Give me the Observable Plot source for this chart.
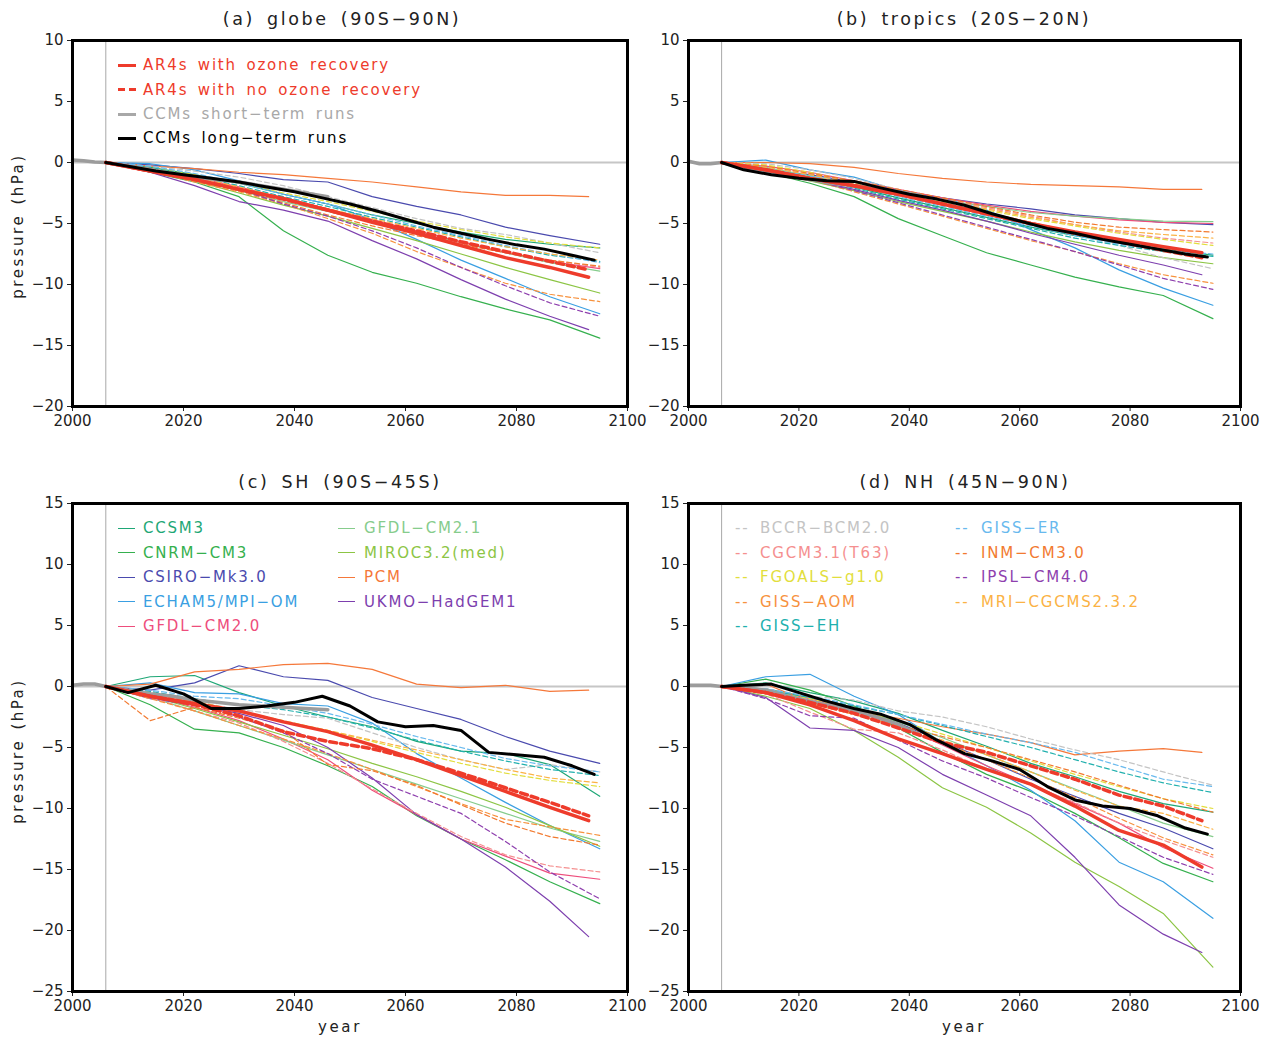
<!DOCTYPE html>
<html><head><meta charset="utf-8">
<script src="https://cdn.jsdelivr.net/npm/d3@7"></script>
<script src="https://cdn.jsdelivr.net/npm/@observablehq/plot@0.6"></script>
<style>
body{margin:0;background:#fff;}
#wrap{position:relative;width:1272px;height:1038px;overflow:hidden;font-family:"DejaVu Sans",sans-serif;background:#fff;}
.panel{position:absolute;}
.panel svg{overflow:visible;}
.txt{position:absolute;white-space:nowrap;}
.title{font-size:17.5px;letter-spacing:2.6px;word-spacing:4px;text-align:center;width:400px;height:22px;line-height:22px;color:#222;}
.ylab{font-size:15px;letter-spacing:2.5px;word-spacing:2px;width:200px;height:20px;line-height:20px;text-align:center;transform:rotate(-90deg);color:#222;}
.row{position:absolute;height:24px;display:flex;align-items:center;font-size:15px;letter-spacing:1.8px;word-spacing:3px;white-space:nowrap;}
</style></head>
<body><div id="wrap"></div>
<script>
// ---------------- data ----------------
const years = [2006, 2014, 2022, 2030, 2038, 2046, 2054, 2062, 2070, 2078, 2086, 2095];
const meanYears = [2006, 2014, 2022, 2030, 2038, 2046, 2054, 2062, 2070, 2078, 2086, 2093];
const longYears = [2006, 2010, 2015, 2020, 2025, 2030, 2035, 2040, 2045, 2050, 2055, 2060, 2065, 2070, 2075, 2080, 2085, 2090, 2094];
const shortYears = [2000, 2002, 2004, 2006, 2010, 2014, 2018, 2022, 2026, 2030, 2034, 2038, 2042, 2046];

const models = ["CCSM3", "CNRM−CM3", "CSIRO−Mk3.0", "ECHAM5/MPI−OM", "GFDL−CM2.0", "GFDL−CM2.1", "MIROC3.2(med)", "PCM", "UKMO−HadGEM1",
  "BCCR−BCM2.0", "CGCM3.1(T63)", "FGOALS−g1.0", "GISS−AOM", "GISS−EH", "GISS−ER", "INM−CM3.0", "IPSL−CM4.0", "MRI−CGCMS2.3.2"];
const modelColors = ["#1ea776", "#35b04e", "#4a4aae", "#3a9fe2", "#ee4d7c", "#86cc8c", "#8cc544", "#f5783a", "#7d3fae",
  "#c4c4c4", "#f58f8f", "#e2de3c", "#f7923e", "#21b0ae", "#68b9ee", "#f27a30", "#8e3fae", "#fbb244"];
const modelDashed = [false, false, false, false, false, false, false, false, false, true, true, true, true, true, true, true, true, true];
const modelLast = [2095, 2095, 2095, 2095, 2095, 2095, 2095, 2093, 2093, 2095, 2095, 2095, 2095, 2095, 2095, 2095, 2095, 2095];

// (a) globe 90S-90N
const globeModels = [
  [0, -0.4, -1.0, -1.7, -2.6, -3.4, -4.3, -5.0, -5.7, -6.3, -6.7, -7.0],
  [0, -0.8, -1.6, -2.8, -5.6, -7.6, -9.0, -9.9, -11.0, -12.0, -12.9, -14.4],
  [0, -0.2, -0.5, -0.9, -1.4, -1.6, -2.8, -3.6, -4.3, -5.3, -6.0, -6.7],
  [0, -0.1, -0.6, -1.5, -2.6, -3.4, -4.7, -6.3, -8.0, -9.5, -11.0, -12.4],
  [0, -0.5, -1.2, -2.0, -2.9, -3.8, -4.7, -5.6, -6.5, -7.4, -8.1, -8.7],
  [0, -0.6, -1.4, -2.3, -3.2, -4.0, -4.9, -5.7, -6.6, -7.4, -8.2, -8.9],
  [0, -0.6, -1.5, -2.5, -3.5, -4.4, -5.4, -6.4, -7.5, -8.6, -9.6, -10.7],
  [0, -0.3, -0.5, -0.8, -1.0, -1.3, -1.6, -2.0, -2.4, -2.7, -2.7, -2.8],
  [0, -0.8, -1.9, -3.2, -3.9, -4.8, -6.4, -7.9, -9.6, -11.2, -12.6, -13.7],
  [0, -0.3, -0.7, -1.2, -1.9, -2.8, -3.7, -4.6, -5.4, -5.9, -6.6, -7.4],
  [0, -0.5, -1.2, -2.0, -2.9, -3.8, -4.8, -5.7, -6.6, -7.4, -8.0, -8.6],
  [0, -0.4, -1.0, -1.7, -2.5, -3.2, -4.0, -4.8, -5.5, -6.1, -6.6, -7.0],
  [0, -0.7, -1.6, -2.4, -3.4, -4.6, -5.8, -7.3, -8.6, -9.9, -10.8, -11.4],
  [0, -0.4, -1.1, -1.9, -2.8, -3.6, -4.5, -5.3, -6.1, -6.9, -7.6, -8.1],
  [0, -0.3, -0.9, -1.7, -2.6, -3.4, -4.3, -5.2, -6.0, -6.8, -7.5, -8.2],
  [0, -0.6, -1.4, -2.3, -3.3, -4.3, -5.2, -6.0, -6.7, -7.4, -8.0, -8.5],
  [0, -0.5, -1.3, -2.2, -3.4, -4.4, -5.6, -7.0, -8.6, -10.1, -11.5, -12.6],
  [0, -0.5, -1.2, -2.0, -2.9, -3.8, -4.6, -5.4, -6.2, -6.9, -7.5, -8.0]
];
const globeRecovery = [0, -0.7, -1.4, -2.2, -2.95, -3.9, -4.9, -5.8, -6.8, -7.8, -8.6, -9.4];
const globeNoRecovery = [0, -0.7, -1.4, -2.2, -3.0, -3.9, -4.8, -5.6, -6.5, -7.3, -8.1, -8.8];
const globeShort = [0.2, 0.15, 0.05, 0, -0.3, -0.6, -0.9, -1.2, -1.4, -1.6, -1.9, -2.2, -2.5, -2.8];
const globeLong = [0, -0.3, -0.7, -1.0, -1.3, -1.6, -2.0, -2.4, -2.9, -3.4, -4.0, -4.65, -5.3, -5.8, -6.3, -6.75, -7.1, -7.6, -8.0];

// (b) tropics 20S-20N
const tropicsModels = [
  [0, -0.5, -1.2, -2.0, -2.9, -3.7, -4.5, -5.3, -6.0, -6.6, -7.1, -7.6],
  [0, -0.8, -1.7, -2.8, -4.6, -6.0, -7.4, -8.4, -9.4, -10.2, -10.9, -12.8],
  [0, -0.6, -1.0, -1.6, -2.3, -2.9, -3.4, -3.8, -4.3, -4.6, -4.9, -5.1],
  [0, 0.2, -0.6, -1.2, -2.3, -2.9, -3.9, -5.5, -7.0, -8.8, -10.3, -11.7],
  [0, -0.3, -0.8, -1.5, -2.2, -2.9, -3.5, -4.0, -4.4, -4.7, -4.9, -5.0],
  [0, -0.4, -1.1, -1.8, -2.5, -3.1, -3.6, -4.1, -4.4, -4.6, -4.8, -4.85],
  [0, -0.7, -1.5, -2.3, -3.2, -4.0, -4.8, -5.7, -6.5, -7.2, -7.8, -8.3],
  [0, 0, -0.1, -0.4, -0.9, -1.3, -1.6, -1.8, -1.9, -2.0, -2.2, -2.2],
  [0, -0.7, -1.4, -2.2, -3.1, -3.9, -4.8, -5.8, -6.7, -7.6, -8.4, -9.2],
  [0, -0.1, -0.6, -1.3, -2.2, -3.2, -4.1, -5.0, -5.9, -6.8, -7.8, -8.7],
  [0, -0.3, -0.9, -1.6, -2.3, -3.0, -3.7, -4.4, -5.1, -5.7, -6.2, -6.6],
  [0, -0.2, -0.8, -1.6, -2.4, -3.2, -3.9, -4.6, -5.2, -5.8, -6.3, -6.8],
  [0, -0.6, -1.4, -2.4, -3.4, -4.4, -5.4, -6.4, -7.3, -8.3, -9.2, -9.9],
  [0, -0.5, -1.3, -2.1, -3.0, -3.8, -4.6, -5.4, -6.2, -6.8, -7.3, -7.7],
  [0, -0.4, -1.1, -1.9, -2.8, -3.6, -4.4, -5.2, -6.0, -6.7, -7.2, -7.5],
  [0, -0.3, -0.9, -1.5, -2.2, -2.9, -3.6, -4.3, -4.9, -5.3, -5.5, -5.7],
  [0, -0.6, -1.4, -2.3, -3.3, -4.3, -5.3, -6.3, -7.3, -8.4, -9.5, -10.4],
  [0, -0.4, -1.0, -1.7, -2.4, -3.1, -3.8, -4.5, -5.1, -5.6, -5.9, -6.2]
];
const tropicsRecovery = [0, -0.6, -1.3, -1.9, -2.6, -3.4, -4.2, -5.0, -5.7, -6.3, -6.9, -7.4];
const tropicsNoRecovery = [0, -0.6, -1.3, -1.9, -2.6, -3.4, -4.2, -5.0, -5.8, -6.5, -7.2, -7.8];
const tropicsShort = [0.1, -0.1, -0.1, 0, -0.4, -0.8, -1.1, -1.4, -1.7, -1.9, -2.2, -2.4, -2.7];
const tropicsLong = [0, -0.6, -1.0, -1.3, -1.5, -1.55, -2.1, -2.6, -3.0, -3.5, -4.2, -4.8, -5.4, -5.8, -6.3, -6.7, -7.1, -7.5, -7.75];

// (c) SH 90S-45S
const shModels = [
  [0, 0.8, 0.9, -0.5, -1.6, -2.5, -3.3, -4.5, -5.3, -5.5, -6.4, -9.0],
  [0, -1.5, -3.5, -3.8, -5.0, -6.5, -8.2, -10.6, -12.5, -14.2, -16.0, -17.8],
  [0, -0.3, 0.3, 1.7, 0.8, 0.5, -0.9, -1.8, -2.7, -4.1, -5.3, -6.3],
  [0, 0.3, -0.5, -0.6, -1.4, -1.6, -3.0, -5.5, -7.5, -9.5, -11.4, -13.3],
  [0, -0.8, -1.7, -2.8, -4.3, -6.0, -8.5, -10.5, -12.5, -13.9, -15.3, -15.8],
  [0, -0.9, -2.0, -3.2, -4.4, -5.6, -6.8, -8.0, -9.2, -10.4, -11.6, -12.7],
  [0, -0.8, -1.8, -2.9, -4.0, -5.1, -6.3, -7.4, -8.6, -9.9, -11.4, -13.1],
  [0, 0.2, 1.2, 1.4, 1.8, 1.9, 1.4, 0.2, -0.1, 0.1, -0.4, -0.3],
  [0, -1.0, -1.5, -2.2, -3.2, -5.0, -7.5, -10.5, -12.5, -14.8, -17.6, -20.5],
  [0, -0.5, -1.2, -1.9, -2.3, -2.6, -3.8, -5.0, -6.0, -6.8, -6.4, -7.0],
  [0, -0.9, -2.0, -3.0, -4.5, -6.3, -8.4, -10.4, -12.3, -13.8, -14.7, -15.2],
  [0, -0.5, -1.2, -2.0, -2.8, -3.6, -4.5, -5.4, -6.3, -7.1, -7.7, -8.2],
  [0, -1.0, -2.0, -3.2, -4.3, -5.5, -6.8, -8.2, -9.6, -10.9, -11.5, -12.2],
  [0, -0.4, -1.0, -1.5, -1.9, -2.5, -3.4, -4.4, -5.3, -6.1, -6.8, -7.3],
  [0, -0.3, -0.8, -1.0, -1.6, -2.2, -3.1, -4.1, -5.0, -5.9, -6.5, -7.0],
  [0, -2.8, -1.7, -2.6, -3.6, -6.4, -6.9, -8.1, -9.7, -11.2, -12.3, -13.0],
  [0, -0.6, -1.4, -2.5, -3.8, -5.5, -7.6, -9.0, -10.4, -12.7, -15.2, -17.4],
  [0, -0.6, -1.3, -2.1, -2.9, -3.6, -4.4, -5.2, -6.0, -6.8, -7.5, -7.9]
];
const shRecovery = [0, -0.8, -1.4, -2.0, -2.9, -3.7, -4.8, -6.0, -7.3, -8.6, -9.9, -11.0];
const shNoRecovery = [0, -0.8, -1.5, -2.4, -3.7, -4.5, -5.1, -6.0, -7.1, -8.3, -9.5, -10.6];
const shShort = [0.1, 0.2, 0.2, 0, -0.3, -0.6, -0.8, -1.1, -1.3, -1.5, -1.6, -1.7, -1.8, -1.9];
const shLong = [0, -0.5, 0.1, -0.6, -1.8, -1.8, -1.6, -1.3, -0.8, -1.6, -2.9, -3.3, -3.2, -3.6, -5.4, -5.6, -5.8, -6.5, -7.2];

// (d) NH 45N-90N
const nhModels = [
  [0, 0.3, -0.5, -1.2, -2.2, -3.6, -4.9, -6.3, -7.4, -8.6, -9.6, -10.3],
  [0, 0.6, -0.3, -1.6, -3.4, -5.4, -7.2, -8.6, -10.4, -12.4, -14.5, -16.0],
  [0, -0.2, -0.9, -1.9, -3.0, -4.5, -6.0, -7.6, -9.0, -10.4, -11.6, -13.3],
  [0, 0.8, 1.0, -0.8, -2.3, -4.6, -6.5, -8.5, -11.0, -14.4, -16.0, -19.0],
  [0, -0.3, -1.0, -2.0, -3.2, -4.8, -6.5, -8.0, -9.6, -11.2, -13.2, -14.9],
  [0, -0.2, -0.9, -1.8, -2.9, -4.2, -5.6, -7.0, -8.4, -9.8, -11.2, -12.3],
  [0, -0.8, -1.8, -3.6, -5.8, -8.3, -9.9, -12.0, -14.4, -16.4, -18.6, -23.0],
  [0, 0.2, -1.3, -2.0, -2.6, -3.3, -3.9, -4.6, -5.6, -5.3, -5.1, -5.4],
  [0, -0.9, -3.4, -3.6, -5.0, -7.2, -8.9, -10.6, -14.0, -17.9, -20.3, -21.8],
  [0, -0.2, -0.8, -1.1, -2.0, -2.5, -3.3, -4.3, -5.2, -6.0, -7.0, -8.1],
  [0, -0.6, -2.1, -3.5, -3.8, -5.2, -6.8, -8.1, -9.5, -11.2, -12.6, -14.0],
  [0, -0.3, -1.0, -1.8, -2.8, -3.9, -5.0, -6.1, -7.2, -8.2, -9.2, -10.0],
  [0, -0.4, -1.2, -2.2, -3.3, -4.6, -6.0, -7.5, -9.1, -10.8, -12.4, -13.8],
  [0, -0.3, -0.9, -1.6, -2.3, -3.2, -4.1, -5.0, -6.0, -7.0, -7.9, -8.7],
  [0, -0.2, -0.8, -1.5, -2.3, -3.1, -3.9, -4.6, -5.4, -6.5, -7.6, -8.2],
  [0, -0.6, -1.4, -2.3, -3.2, -4.1, -5.0, -6.0, -7.0, -8.1, -9.2, -10.3],
  [0, -1.0, -2.4, -2.6, -4.4, -6.1, -7.5, -9.1, -10.6, -12.3, -14.0, -15.4],
  [0, -0.5, -1.3, -2.3, -3.3, -4.4, -5.6, -7.0, -8.5, -9.8, -10.4, -11.7]
];
const nhRecovery = [0, -0.5, -1.5, -2.8, -4.3, -5.5, -6.8, -8.0, -9.8, -11.8, -13.0, -14.8];
const nhNoRecovery = [0, -0.5, -1.3, -2.2, -3.4, -4.6, -5.4, -6.5, -7.6, -8.9, -9.8, -11.0];
const nhShort = [0.1, 0.1, 0.1, 0, -0.1, -0.3, -0.8, -1.2, -1.6, -2.0, -2.5, -3.1, -4.0];
const nhLong = [0, 0.1, 0.2, -0.5, -1.2, -1.8, -2.3, -3.1, -4.4, -5.5, -6.1, -6.8, -8.2, -9.3, -9.8, -10.0, -10.6, -11.6, -12.1];

const titles = ["(a) globe (90S−90N)", "(b) tropics (20S−20N)", "(c) SH (90S−45S)", "(d) NH (45N−90N)"];
const meanLabels = ["AR4s with ozone recovery", "AR4s with no ozone recovery", "CCMs short−term runs", "CCMs long−term runs"];
const xTicks = [2000, 2020, 2040, 2060, 2080, 2100];

// ---------------- drawing ----------------
const RED = "#ee3b2b", GREY = "#9c9c9c";
const wrap = document.getElementById("wrap");

function series(ys, vals) {
  return vals.map((v, i) => ({year: ys[i], value: v}));
}

function panel(o) {
  const rows = [];
  models.forEach((m, i) => o.models[i].forEach((v, j) => rows.push({
    model: m, year: j === years.length - 1 ? modelLast[i] : years[j], value: v, dashed: modelDashed[i]
  })));
  const plot = Plot.plot({
    width: 636, height: o.height,
    marginTop: 40, marginBottom: o.mb, marginLeft: o.ml, marginRight: o.mr,
    style: {fontFamily: "DejaVu Sans, sans-serif", fontSize: "15px", background: "transparent", overflow: "visible", color: "#222"},
    x: {domain: [2000, 2100], ticks: xTicks, tickFormat: d => String(d), label: null, tickSize: 5, tickPadding: 4},
    y: {domain: o.yDomain, ticks: o.yTicks, label: null, tickSize: 5, tickPadding: 4},
    color: {domain: models, range: modelColors},
    marks: [
      Plot.ruleY([0], {stroke: "#c6c6c6", strokeWidth: 1.8}),
      Plot.ruleX([2006], {stroke: "#a8a8a8", strokeWidth: 1}),
      Plot.line(rows.filter(d => !d.dashed), {x: "year", y: "value", z: "model", stroke: "model", strokeWidth: 1.2}),
      Plot.line(rows.filter(d => d.dashed), {x: "year", y: "value", z: "model", stroke: "model", strokeWidth: 1.2, strokeDasharray: "5,3"}),
      Plot.line(series(shortYears, o.short), {x: "year", y: "value", stroke: GREY, strokeWidth: 3.5}),
      Plot.line(series(meanYears, o.noRec), {x: "year", y: "value", stroke: RED, strokeWidth: 3.5, strokeDasharray: "7,4"}),
      Plot.line(series(meanYears, o.rec), {x: "year", y: "value", stroke: RED, strokeWidth: 3.5}),
      Plot.line(series(longYears, o.long), {x: "year", y: "value", stroke: "#000", strokeWidth: 3}),
      Plot.frame({stroke: "#000", strokeWidth: 3})
    ]
  });
  const div = document.createElement("div");
  div.className = "panel";
  div.style.left = o.left + "px";
  div.style.top = o.top + "px";
  div.appendChild(plot);
  wrap.appendChild(div);
}

panel({left: 0, top: 0, height: 440, mb: 34, ml: 72, mr: 9, yDomain: [-20, 10], yTicks: [-20, -15, -10, -5, 0, 5, 10],
  models: globeModels, rec: globeRecovery, noRec: globeNoRecovery, short: globeShort, long: globeLong});
panel({left: 636, top: 0, height: 440, mb: 34, ml: 52, mr: 32, yDomain: [-20, 10], yTicks: [-20, -15, -10, -5, 0, 5, 10],
  models: tropicsModels, rec: tropicsRecovery, noRec: tropicsNoRecovery, short: tropicsShort, long: tropicsLong});
panel({left: 0, top: 463, height: 575, mb: 47, ml: 72, mr: 9, yDomain: [-25, 15], yTicks: [-25, -20, -15, -10, -5, 0, 5, 10, 15],
  models: shModels, rec: shRecovery, noRec: shNoRecovery, short: shShort, long: shLong});
panel({left: 636, top: 463, height: 575, mb: 47, ml: 52, mr: 32, yDomain: [-25, 15], yTicks: [-25, -20, -15, -10, -5, 0, 5, 10, 15],
  models: nhModels, rec: nhRecovery, noRec: nhNoRecovery, short: nhShort, long: nhLong});

function addText(cls, text, left, top, color) {
  const d = document.createElement("div");
  d.className = "txt " + cls;
  d.textContent = text;
  d.style.left = left + "px";
  d.style.top = top + "px";
  if (color) d.style.color = color;
  wrap.appendChild(d);
  return d;
}
// titles
[[342, 19], [964, 19], [340, 482], [965, 482]].forEach(([cx, cy], i) => addText("title", titles[i], cx - 200, cy - 11));
// y labels
addText("ylab", "pressure (hPa)", 18 - 100, 226 - 10);
addText("ylab", "pressure (hPa)", 18 - 100, 751 - 10);
// x labels
addText("title", "year", 340 - 200, 1027 - 11).style.fontSize = "15px";
addText("title", "year", 964 - 200, 1027 - 11).style.fontSize = "15px";

function swatch(color, kind) {
  if (kind === "thick") return `<span style="display:inline-block;width:18px;height:0;border-top:3.5px solid ${color}"></span>`;
  if (kind === "thickdash") return `<span style="display:inline-block;width:7px;height:0;border-top:3.5px solid ${color};margin-right:4px"></span><span style="display:inline-block;width:7px;height:0;border-top:3.5px solid ${color}"></span>`;
  if (kind === "thin") return `<span style="display:inline-block;width:17px;height:0;border-top:1.4px solid ${color}"></span>`;
  return `<span style="color:${color}">--</span>`;
}
function legendRow(x, tx, cy, color, kind, label) {
  const r = document.createElement("div");
  r.className = "row";
  r.style.left = x + "px";
  r.style.top = (cy - 12) + "px";
  r.innerHTML = swatch(color, kind) + `<span style="position:absolute;left:${tx - x}px;color:${color}">${label}</span>`;
  wrap.appendChild(r);
}
// legend (a)
const meanColors = [RED, RED, "#a8a8a8", "#000"];
const meanKinds = ["thick", "thickdash", "thick", "thick"];
[65, 89.5, 114, 138].forEach((cy, i) => legendRow(118, 143, cy, meanColors[i], meanKinds[i], meanLabels[i]));
// legend (c) and (d)
const rowsY = [528, 552.5, 577, 601.5, 626];
models.forEach((m, i) => {
  const dashed = modelDashed[i];
  const k = dashed ? i - 9 : i;
  const col = k < 5 ? 0 : 1;
  const r = col === 0 ? k : k - 5;
  if (!dashed) legendRow(col === 0 ? 118 : 338, col === 0 ? 143 : 364, rowsY[r], modelColors[i], "thin", m);
  else legendRow(col === 0 ? 735 : 955, col === 0 ? 760 : 981, rowsY[r], modelColors[i], "dash", m);
});
</script></body></html>
